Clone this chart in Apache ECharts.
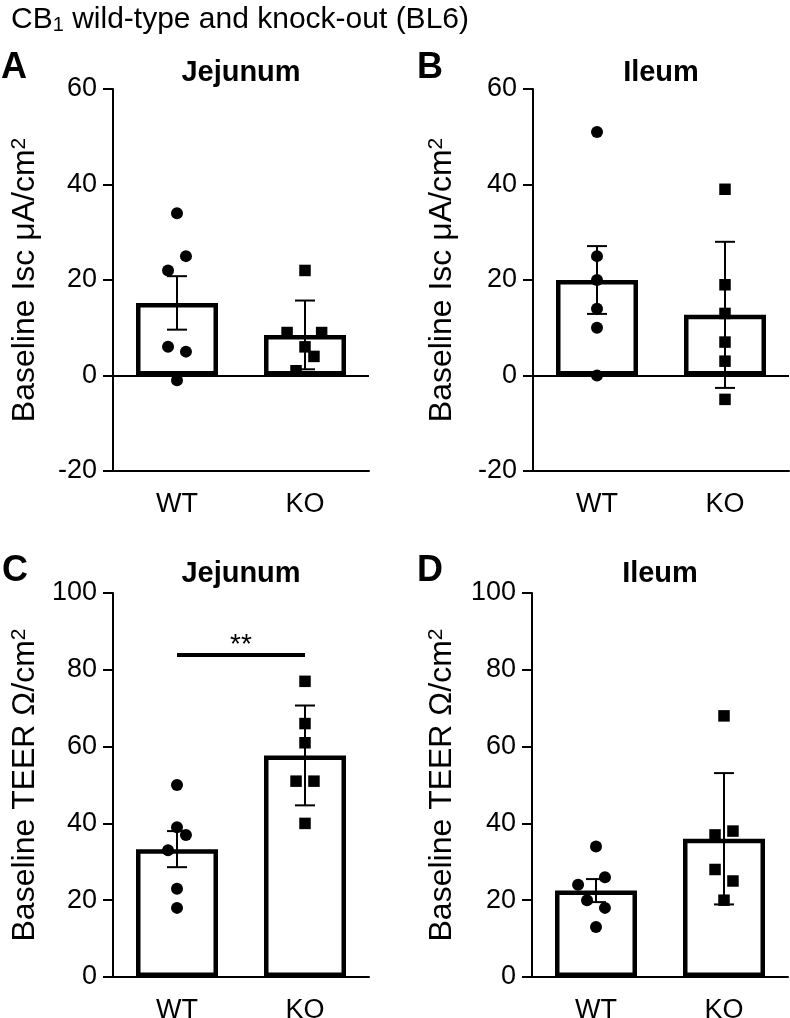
<!DOCTYPE html>
<html>
<head>
<meta charset="utf-8">
<script src="https://cdn.jsdelivr.net/npm/echarts@6/dist/echarts.min.js"></script>
<style>
  html, body { margin: 0; padding: 0; background: #fff; }
  #main { width: 790px; height: 1018px; }
</style>
</head>
<body>
<div id="main"></div>
<script>
const groups = ['WT', 'KO']

// Baseline Isc, uA/cm2 (one point per animal)
const jejIscWT = [34, 25, 22, 6, 5, -1]
const jejIscKO = [22, 9, 9, 6, 4, 1]
const ileIscWT = [51, 25, 20, 14, 10, 0]
const ileIscKO = [39, 19, 13, 7, 3, -5]
// Baseline TEER, ohm/cm2
const jejTeerWT = [50, 39, 37, 33, 23, 18]
const jejTeerKO = [77, 66, 61, 51, 51, 40]
const ileTeerWT = [34, 26, 24, 20, 18, 13]
const ileTeerKO = [68, 38, 37, 28, 25, 20]

// horizontal scatter of the dots, in category widths
const jejIscWTdx = [0, 0.07, -0.07, -0.07, 0.07, 0]
const jejIscKOdx = [0, -0.14, 0.13, 0, 0.07, -0.07]
const ileIscWTdx = [0, 0, 0, 0, 0, 0]
const ileIscKOdx = [0, 0, 0, 0, 0, 0]
const jejTeerWTdx = [0, 0, 0.07, -0.07, 0, 0]
const jejTeerKOdx = [0, 0, 0, -0.07, 0.07, 0]
const ileTeerWTdx = [0, 0.07, -0.14, -0.07, 0.07, 0]
const ileTeerKOdx = [0, 0.07, -0.07, -0.07, 0.07, 0]

// bar heights and error bar half-lengths as drawn
const jejIscBar = [15.2, 8.5]
const jejIscErr = [5.6, 7.2]
const ileIscBar = [20, 12.7]
const ileIscErr = [7.1, 15.3]
const jejTeerBar = [33.3, 57.7]
const jejTeerErr = [4.7, 13]
const ileTeerBar = [22.5, 36]
const ileTeerErr = [3, 17.1]

// significance bracket in panel C
const jejTeerSig = { y: 84, text: '**' }

const FONT = 'Arial, "Liberation Sans", sans-serif'

const panels = [
  { grid: { left: 113, top: 89, width: 256, height: 382 }, min: -20, max: 60,
    name: 'Baseline Isc μA/cm{sup|2}', nameGap: 72,
    wt: jejIscWT, ko: jejIscKO, wtDx: jejIscWTdx, koDx: jejIscKOdx, bar: jejIscBar, err: jejIscErr, zero: true },
  { grid: { left: 533, top: 89, width: 256, height: 382 }, min: -20, max: 60,
    name: 'Baseline Isc μA/cm{sup|2}', nameGap: 75,
    wt: ileIscWT, ko: ileIscKO, wtDx: ileIscWTdx, koDx: ileIscKOdx, bar: ileIscBar, err: ileIscErr, zero: true },
  { grid: { left: 113, top: 593, width: 256, height: 384 }, min: 0, max: 100,
    name: 'Baseline TEER Ω/cm{sup|2}', nameGap: 72,
    wt: jejTeerWT, ko: jejTeerKO, wtDx: jejTeerWTdx, koDx: jejTeerKOdx, bar: jejTeerBar, err: jejTeerErr, sig: jejTeerSig },
  { grid: { left: 532, top: 593, width: 256, height: 384 }, min: 0, max: 100,
    name: 'Baseline TEER Ω/cm{sup|2}', nameGap: 74,
    wt: ileTeerWT, ko: ileTeerKO, wtDx: ileTeerWTdx, koDx: ileTeerKOdx, bar: ileTeerBar, err: ileTeerErr }
]

const grid = [], xAxis = [], yAxis = [], series = []

panels.forEach((p, i) => {
  grid.push(Object.assign({ containLabel: false, outerBoundsMode: 'none' }, p.grid))
  // category axis with the labels (index 2*i)
  xAxis.push({
    type: 'category', gridIndex: i, data: groups, position: 'bottom',
    axisLine: { onZero: false, lineStyle: { color: '#000', width: 2 } },
    axisTick: { alignWithLabel: true, length: 9, lineStyle: { color: '#000', width: 2 } },
    axisLabel: { color: '#000', fontSize: 27, fontFamily: FONT, margin: 20 }
  })
  // hidden value axis for dots and error bars (index 2*i+1)
  xAxis.push({ type: 'value', gridIndex: i, min: -0.5, max: 1.5, show: false })
  yAxis.push({
    type: 'value', gridIndex: i, min: p.min, max: p.max, interval: 20,
    name: p.name, nameLocation: 'middle', nameRotate: 90, nameGap: p.nameGap,
    nameTextStyle: {
      color: '#000', fontSize: 32, fontFamily: FONT,
      rich: { sup: { fontSize: 21, color: '#000', fontFamily: FONT, verticalAlign: 'top', lineHeight: 21 } }
    },
    splitLine: { show: false },
    axisLine: { show: true, onZero: false, lineStyle: { color: '#000', width: 2 } },
    axisTick: { show: true, length: 10, lineStyle: { color: '#000', width: 2 } },
    axisLabel: { color: '#000', fontSize: 27, fontFamily: FONT, margin: 16 }
  })

  series.push({
    type: 'bar', xAxisIndex: 2 * i, yAxisIndex: i, data: p.bar, barWidth: 82,
    itemStyle: { color: '#fff', borderColor: '#000', borderWidth: 4.5 }, z: 2,
    markLine: p.zero ? {
      silent: true, symbol: ['none', 'none'], label: { show: false },
      lineStyle: { color: '#000', width: 2, type: 'solid' },
      data: [{ yAxis: 0 }]
    } : undefined
  })

  series.push({
    type: 'custom', xAxisIndex: 2 * i + 1, yAxisIndex: i, z: 3,
    data: p.bar.map((m, k) => [k, m - p.err[k], m + p.err[k]]),
    renderItem: (params, api) => {
      const lo = api.coord([api.value(0), api.value(1)])
      const hi = api.coord([api.value(0), api.value(2)])
      const st = { stroke: '#000', lineWidth: 2 }
      return {
        type: 'group', children: [
          { type: 'line', shape: { x1: hi[0], y1: hi[1], x2: lo[0], y2: lo[1] }, style: st },
          { type: 'line', shape: { x1: hi[0] - 10, y1: hi[1], x2: hi[0] + 10, y2: hi[1] }, style: st },
          { type: 'line', shape: { x1: lo[0] - 10, y1: lo[1], x2: lo[0] + 10, y2: lo[1] }, style: st }
        ]
      }
    }
  })

  series.push({
    type: 'scatter', xAxisIndex: 2 * i + 1, yAxisIndex: i, z: 4,
    symbol: 'circle', symbolSize: 12, itemStyle: { color: '#000', opacity: 1 },
    data: p.wt.map((v, k) => [0 + p.wtDx[k], v]),
    markLine: p.sig ? {
      silent: true, symbol: ['none', 'none'],
      lineStyle: { color: '#000', width: 4, type: 'solid' },
      label: { show: true, position: 'middle', formatter: p.sig.text, color: '#000', fontSize: 28, fontFamily: FONT, distance: -5 },
      data: [[{ coord: [0, p.sig.y] }, { coord: [1, p.sig.y] }]]
    } : undefined
  })
  series.push({
    type: 'scatter', xAxisIndex: 2 * i + 1, yAxisIndex: i, z: 4,
    symbol: 'rect', symbolSize: 11.5, itemStyle: { color: '#000', opacity: 1 },
    data: p.ko.map((v, k) => [1 + p.koDx[k], v])
  })
})

const txt = (x, y, text, size, bold, align) => ({
  type: 'text', x: x, y: y,
  style: {
    text: text, fill: '#000', font: (bold ? 'bold ' : '') + size + 'px ' + FONT,
    textAlign: align, textVerticalAlign: 'top', align: align, verticalAlign: 'top'
  }
})

const chart = echarts.init(document.getElementById('main'))
chart.setOption({
  backgroundColor: '#fff',
  animation: false,
  title: {
    text: 'CB{sub|1} wild-type and knock-out (BL6)', left: 6, top: 0,
    textStyle: {
      color: '#000', fontSize: 30, fontWeight: 'normal', fontFamily: FONT,
      rich: { sub: { fontSize: 20, color: '#000', fontFamily: FONT, verticalAlign: 'bottom', lineHeight: 20 } }
    }
  },
  graphic: [
    txt(1, 50, 'A', 36, true, 'left'),
    txt(417, 50, 'B', 36, true, 'left'),
    txt(2, 553, 'C', 36, true, 'left'),
    txt(417, 553, 'D', 36, true, 'left'),
    txt(241, 58, 'Jejunum', 29, true, 'center'),
    txt(661, 58, 'Ileum', 29, true, 'center'),
    txt(241, 559, 'Jejunum', 29, true, 'center'),
    txt(660, 559, 'Ileum', 29, true, 'center')
  ],
  grid: grid,
  xAxis: xAxis,
  yAxis: yAxis,
  series: series
})
</script>
</body>
</html>
